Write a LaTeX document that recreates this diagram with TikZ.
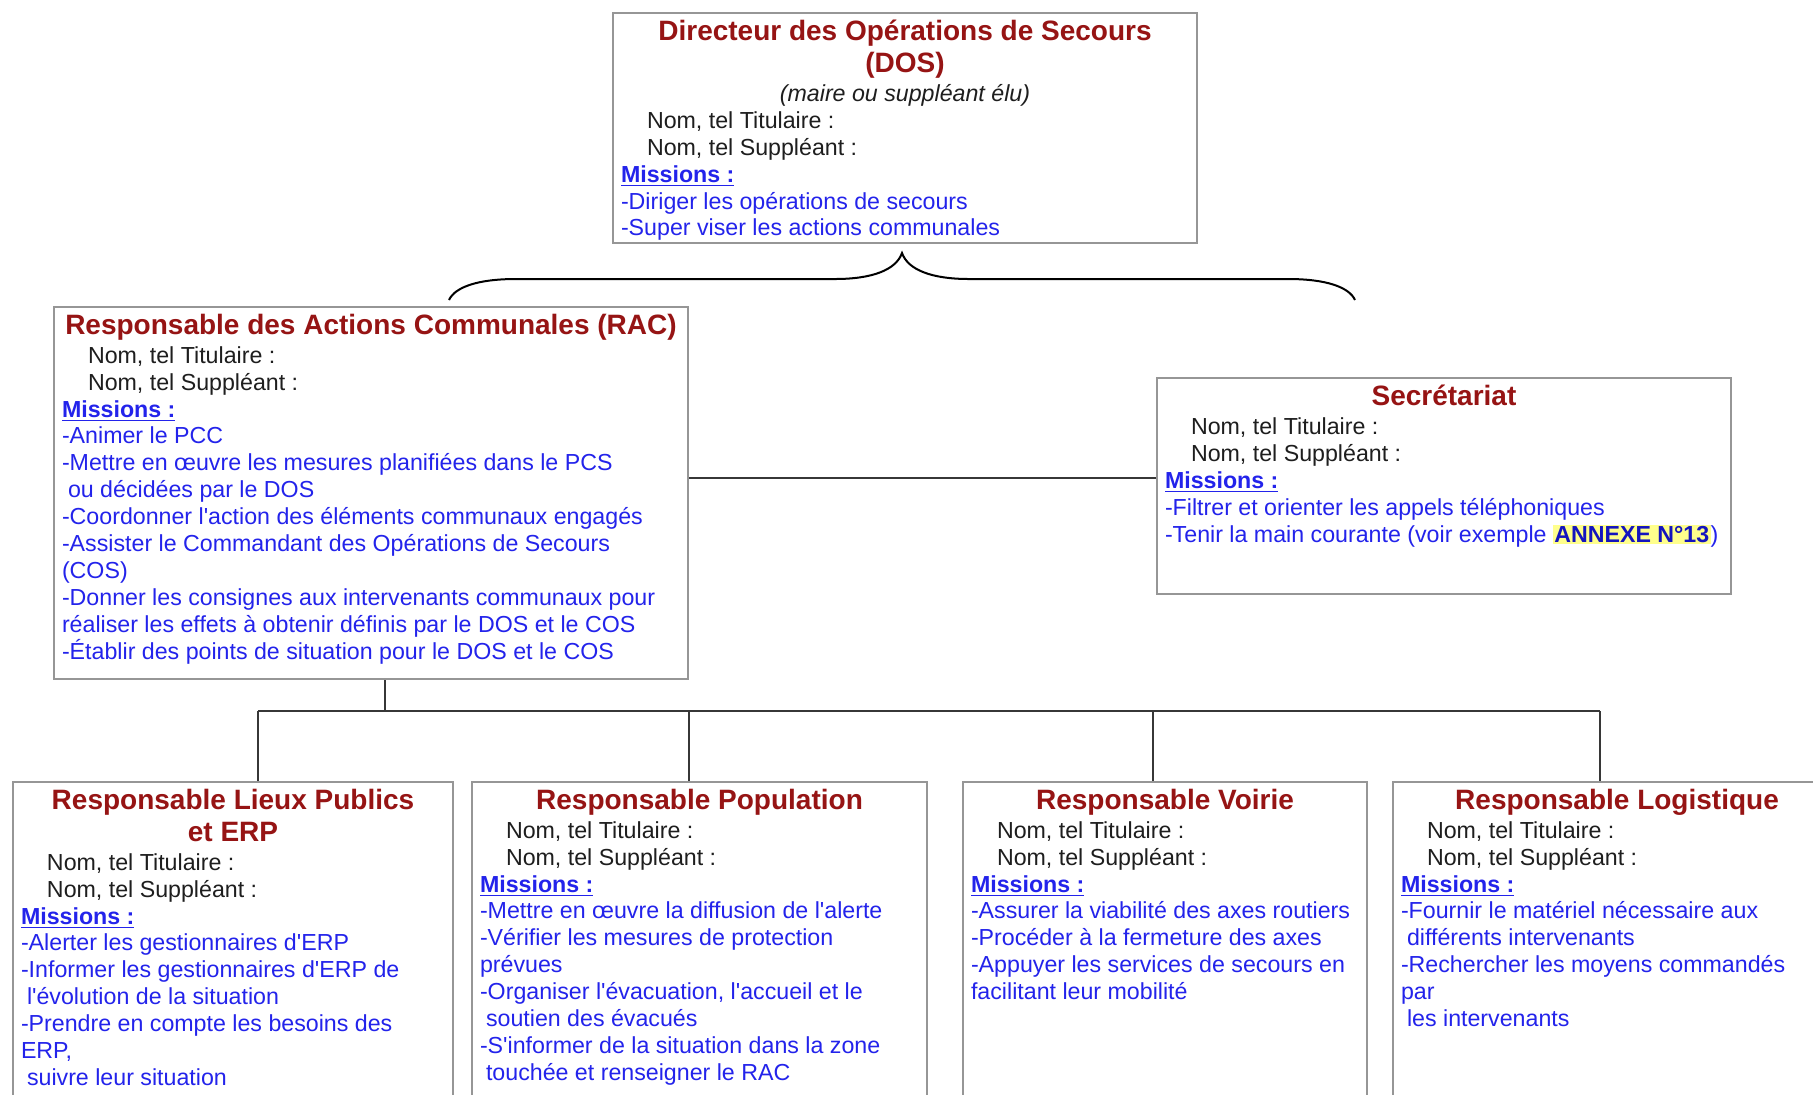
\documentclass[tikz,border=0pt]{standalone}
\usepackage{fontspec}
\setmainfont{Liberation Sans}
\usetikzlibrary{positioning,calc}

\definecolor{titlered}{RGB}{150,20,20}
\definecolor{misblue}{RGB}{35,35,235}
\definecolor{annexblue}{RGB}{20,20,190}
\definecolor{hiyellow}{RGB}{255,255,140}
\definecolor{boxgray}{RGB}{150,150,150}
\definecolor{linkgray}{RGB}{55,55,55}
\definecolor{txtgray}{RGB}{30,30,30}

\newcommand{\rolecard}[3]{\parbox[t][#2][t]{#1}{\raggedright\fontsize{11.6}{13.45}\selectfont\color{txtgray}#3}}
\newcommand{\roletitle}[1]{{\centering\fontsize{14}{16}\selectfont\bfseries\color{titlered}#1\par}\vspace{1pt}}
\newcommand{\contacts}{\hspace*{13pt}Nom, tel Titulaire :\\\hspace*{13pt}Nom, tel Suppléant :\par}
\newcommand{\missions}{\color{misblue}{\bfseries\underline{Missions :}}\par}
\newcommand{\annexe}[1]{{\setlength{\fboxsep}{0.6pt}\colorbox{hiyellow}{\color{annexblue}\bfseries #1}}}
\newcommand{\apos}{\textquotesingle}

\begin{document}
\begin{tikzpicture}[x=0.5pt, y=-0.5pt,
		role/.style={draw=boxgray, line width=1pt, fill=white, anchor=north west, inner xsep=4pt, inner ysep=3.5pt},
		link/.style={draw=linkgray, line width=1pt},
		bracepen/.style={draw=black, line width=1pt}]
	\useasboundingbox (0,0) rectangle (1813,1094);
	\clip (0,0) rectangle (1813,1094);

	% direction
	\node[role] (dos) at (612,12) {\rolecard{284pt}{108pt}{%
		\roletitle{Directeur des Opérations de Secours\\(DOS)}%
		{\centering\itshape (maire ou suppléant élu)\par}%
		\contacts
		\missions
		-Diriger les opérations de secours\\
		-Super viser les actions communales}};

	\node[role] (rac) at (53,306) {\rolecard{309pt}{179pt}{%
		\roletitle{\mbox{Responsable des Actions Communales (RAC)}}%
		\contacts
		\missions
		-Animer le PCC\\
		-Mettre en œuvre les mesures planifiées dans le PCS\\
		\hspace*{3pt}ou décidées par le DOS\\
		-Coordonner l\apos action des éléments communaux engagés\\
		-Assister le Commandant des Opérations de Secours\\
		(COS)\\
		-Donner les consignes aux intervenants communaux pour\\
		réaliser les effets à obtenir définis par le DOS et le COS\\
		-Établir des points de situation pour le DOS et le COS}};

	\node[role] (sec) at (1156,377) {\rolecard{279pt}{101pt}{%
		\roletitle{Secrétariat}%
		\contacts
		\missions
		-Filtrer et orienter les appels téléphoniques\\
		\mbox{-Tenir la main courante (voir exemple \annexe{ANNEXE N°13})}}};

	% responsables
	\node[role] (lp) at (12,781) {\rolecard{212pt}{170pt}{%
		\roletitle{Responsable Lieux Publics\\et ERP}%
		\contacts
		\missions
		-Alerter les gestionnaires d\apos ERP\\
		-Informer les gestionnaires d\apos ERP de\\
		\hspace*{3pt}l\apos évolution de la situation\\
		-Prendre en compte les besoins des\\
		ERP,\\
		\hspace*{3pt}suivre leur situation}};

	\node[role] (pop) at (471,781) {\rolecard{219.5pt}{170pt}{%
		\roletitle{Responsable Population}%
		\contacts
		\missions
		\mbox{-Mettre en œuvre la diffusion de l\apos alerte}\\
		-Vérifier les mesures de protection\\
		prévues\\
		-Organiser l\apos évacuation, l\apos accueil et le\\
		\hspace*{3pt}soutien des évacués\\
		-S\apos informer de la situation dans la zone\\
		\hspace*{3pt}touchée et renseigner le RAC}};

	\node[role] (voi) at (962,781) {\rolecard{194pt}{170pt}{%
		\roletitle{Responsable Voirie}%
		\contacts
		\missions
		\mbox{-Assurer la viabilité des axes routiers}\\
		-Procéder à la fermeture des axes\\
		-Appuyer les services de secours en\\
		facilitant leur mobilité}};

	\node[role] (log) at (1392,781) {\rolecard{216pt}{170pt}{%
		\roletitle{Responsable Logistique}%
		\contacts
		\missions
		-Fournir le matériel nécessaire aux\\
		\hspace*{3pt}différents intervenants\\
		\mbox{-Rechercher les moyens commandés}\\
		par\\
		\hspace*{3pt}les intervenants}};

	% accolade sous le DOS
	\draw[bracepen] (449,300) .. controls (455,287) and (478,279) .. (516,279) -- (835,279)
		.. controls (872,279) and (896,270) .. (902,253)
		.. controls (908,270) and (932,279) .. (969,279) -- (1288,279)
		.. controls (1326,279) and (1349,287) .. (1355,300);

	% liaisons
	\draw[link] (rac.east |- 0,478) -- (sec.west |- 0,478);
	\coordinate (bus) at (385,711);
	\draw[link] (rac.south -| bus) -- (bus);
	\draw[link] (258,711) -- (1600,711);
	\foreach \n/\x in {lp/258, pop/689, voi/1153, log/1600}
		\draw[link] (\x,711) -- (\x,711 |- \n.north);
\end{tikzpicture}
\end{document}
